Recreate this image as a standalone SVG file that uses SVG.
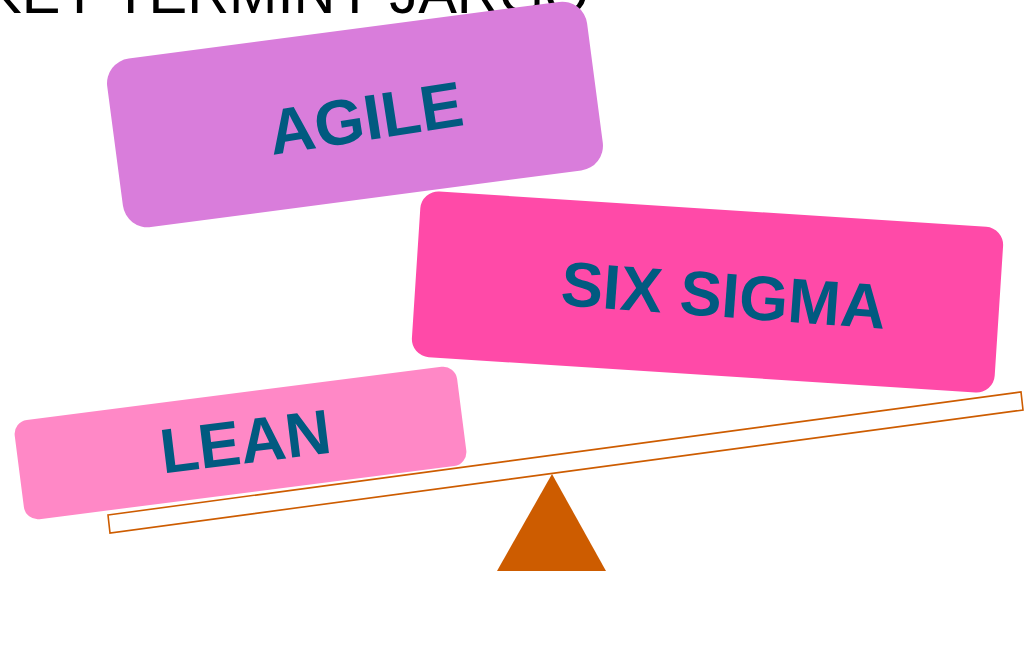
<svg xmlns="http://www.w3.org/2000/svg" width="1030" height="664" viewBox="0 0 1030 664">
  <style>
    .title { font-family: "Liberation Sans", Arial, sans-serif; font-size: 58px; fill: #000000; }
    .label { font-family: "Liberation Sans", Arial, sans-serif; font-weight: bold; fill: #015A80; text-anchor: middle; }
    .beam { fill: #FFFFFF; stroke: #CD5C00; stroke-width: 1.6; }
    .fulcrum { fill: #CD5C00; }
  </style>
  <rect x="0" y="0" width="1030" height="664" fill="#FFFFFF"/>
  <g id="title">
    <text class="title" x="-17" y="13">KEY TERMINY JARGO</text>
  </g>
  <g id="agile">
    <rect x="-242" y="-85" width="484" height="170" rx="25" ry="25" fill="#D97DDB" transform="translate(355,114.5) rotate(-7.5)"/>
    <text class="label" font-size="64" transform="translate(369,140) rotate(-8.8)">AGILE</text>
  </g>
  <g id="six-sigma">
    <rect x="-292" y="-83" width="584" height="166" rx="18" ry="18" fill="#FF4AA8" transform="translate(707.5,292) rotate(3.7)"/>
    <text class="label" font-size="63" transform="translate(722,317) rotate(4.2)">SIX SIGMA</text>
  </g>
  <g id="lean">
    <rect x="-223" y="-50" width="446" height="100" rx="14" ry="14" fill="#FF88C6" transform="translate(240.5,443) rotate(-7.3)"/>
    <text class="label" font-size="63" transform="translate(248,463) rotate(-7)">LEAN</text>
  </g>
  <g id="connectors">
    <polygon class="beam" points="108,515 1021,392 1023,410 110,533"/>
    <polygon class="fulcrum" points="552,474 606,571 497,571"/>
  </g>
</svg>
